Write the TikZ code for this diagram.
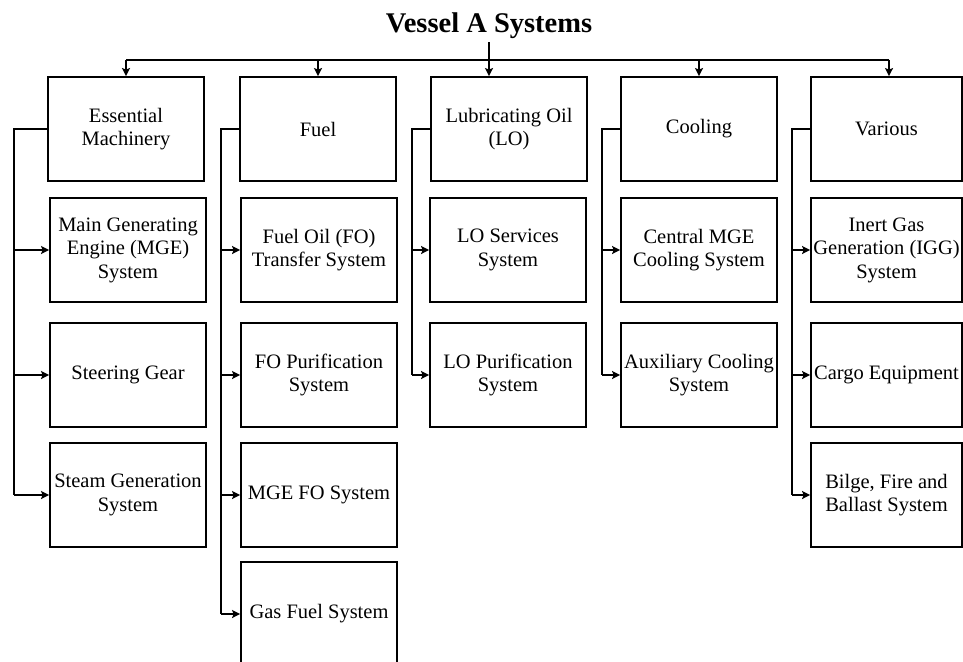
\documentclass[tikz,border=0pt]{standalone}
\usepackage{fontspec}
\setmainfont{Liberation Serif}
\usetikzlibrary{arrows.meta}
\tikzset{
  box/.style={draw, line width=1.8pt, minimum width=156pt, minimum height=104pt, inner sep=0pt, align=center,
    font=\fontsize{20.5pt}{23.5pt}\selectfont},
  narrowbox/.style={box, minimum width=151pt},
  conn/.style={line width=1.8pt},
  arr/.style={line width=1.8pt, -{Stealth[length=8pt,width=8pt,inset=1.5pt]}},
}
\begin{document}
\begin{tikzpicture}[x=1pt,y=-1pt]
\useasboundingbox (0,0) rectangle (963,661);
\clip (0,0) rectangle (963,661);
% title
\node[anchor=base, inner sep=3pt, font=\bfseries\fontsize{28.5pt}{32pt}\selectfont] (title) at (489,33) {Vessel A Systems};
% top boxes
\node[box] (t1) at (126,129) {Essential\\Machinery};
\node[box] (t2) at (318,129) {Fuel};
\node[box] (t3) at (509,129) {Lubricating Oil\\(LO)};
\node[box] (t4) at (699,129) {Cooling};
\node[narrowbox] (t5) at (886.5,129) {Various};
% children column 1
\node[box] (c11) at (128,250) {Main Generating\\Engine (MGE)\\System};
\node[box] (c12) at (128,375) {Steering Gear};
\node[box] (c13) at (128,495) {Steam Generation\\System};
% column 2
\node[box] (c21) at (319,250) {Fuel Oil (FO)\\Transfer System};
\node[box] (c22) at (319,375) {FO Purification\\System};
\node[box] (c23) at (319,495) {MGE FO System};
\node[box] (c24) at (319,614) {Gas Fuel System};
% column 3
\node[box] (c31) at (508,250) {LO Services\\System};
\node[box] (c32) at (508,375) {LO Purification\\System};
% column 4
\node[box] (c41) at (699,250) {Central MGE\\Cooling System};
\node[box] (c42) at (699,375) {Auxiliary Cooling\\System};
% column 5
\node[narrowbox] (c51) at (886.5,250) {Inert Gas\\Generation (IGG)\\System};
\node[narrowbox] (c52) at (886.5,375) {Cargo Equipment};
\node[narrowbox] (c53) at (886.5,495) {Bilge, Fire and\\Ballast System};
% bus
\coordinate (busL) at (126,60);
\coordinate (bus2) at (318,60);
\coordinate (bus4) at (699,60);
\coordinate (busR) at (889,60);
\draw[conn] (busL) -- (busR);
\draw[arr] (title.south) -- (title.south |- t3.north);
\draw[arr] (busL) -- (t1.north);
\draw[arr] (bus2) -- (t2.north);
\draw[arr] (bus4) -- (t4.north);
\draw[arr] (busR) -- (busR |- t5.north);
% branches
\coordinate (b1) at (14,129);
\coordinate (b2) at (221,129);
\coordinate (b3) at (412,129);
\coordinate (b4) at (602,129);
\coordinate (b5) at (792,129);
\draw[conn] (t1.west) -- (b1) -- (b1 |- c13.west);
\draw[arr] (b1 |- c11.west) -- (c11.west);
\draw[arr] (b1 |- c12.west) -- (c12.west);
\draw[arr] (b1 |- c13.west) -- (c13.west);
\draw[conn] (t2.west) -- (b2) -- (b2 |- c24.west);
\draw[arr] (b2 |- c21.west) -- (c21.west);
\draw[arr] (b2 |- c22.west) -- (c22.west);
\draw[arr] (b2 |- c23.west) -- (c23.west);
\draw[arr] (b2 |- c24.west) -- (c24.west);
\draw[conn] (t3.west) -- (b3) -- (b3 |- c32.west);
\draw[arr] (b3 |- c31.west) -- (c31.west);
\draw[arr] (b3 |- c32.west) -- (c32.west);
\draw[conn] (t4.west) -- (b4) -- (b4 |- c42.west);
\draw[arr] (b4 |- c41.west) -- (c41.west);
\draw[arr] (b4 |- c42.west) -- (c42.west);
\draw[conn] (t5.west) -- (b5) -- (b5 |- c53.west);
\draw[arr] (b5 |- c51.west) -- (c51.west);
\draw[arr] (b5 |- c52.west) -- (c52.west);
\draw[arr] (b5 |- c53.west) -- (c53.west);
\end{tikzpicture}
\end{document}
